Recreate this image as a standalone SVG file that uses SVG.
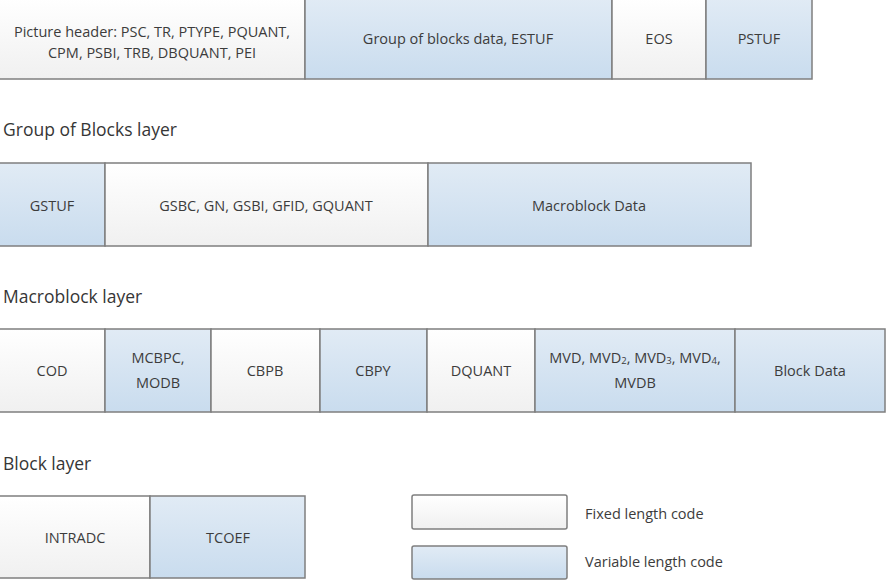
<svg xmlns="http://www.w3.org/2000/svg" width="890" height="582" viewBox="0 0 890 582">
<defs>
<linearGradient id="gw" x1="0" y1="0" x2="0" y2="1">
<stop offset="0" stop-color="#ffffff"/>
<stop offset="1" stop-color="#f0f0f0"/>
</linearGradient>
<linearGradient id="gb" x1="0" y1="0" x2="0" y2="1">
<stop offset="0" stop-color="#e1ebf5"/>
<stop offset="1" stop-color="#c9dcee"/>
</linearGradient>
</defs>
<style>
.w{fill:url(#gw);stroke:#7f7f7f;stroke-width:1.5}
.b{fill:url(#gb);stroke:#7f7f7f;stroke-width:1.5}
.t{font-family:"Open Sans","Liberation Sans",sans-serif;font-size:14.5px;fill:#3c3c3c;text-anchor:middle;dominant-baseline:central}
.h{font-family:"Open Sans","Liberation Sans",sans-serif;font-size:17.5px;fill:#363636}
.l{font-family:"Open Sans","Liberation Sans",sans-serif;font-size:14.5px;fill:#3c3c3c;dominant-baseline:central}
.s{font-size:9.5px}
</style>
<rect width="890" height="582" fill="#ffffff"/>

<g id="picture-layer">
<g id="pic-header"><rect class="w" x="-2" y="-2" width="307" height="81"/>
<text class="t" x="152" y="31">Picture header: PSC, TR, PTYPE, PQUANT,</text>
<text class="t" x="152" y="52">CPM, PSBI, TRB, DBQUANT, PEI</text></g>
<g id="gob-data"><rect class="b" x="305" y="-2" width="307" height="81"/>
<text class="t" x="458" y="38">Group of blocks data, ESTUF</text></g>
<g id="eos"><rect class="w" x="612" y="-2" width="94" height="81"/>
<text class="t" x="659" y="38">EOS</text></g>
<g id="pstuf"><rect class="b" x="706" y="-2" width="106" height="81"/>
<text class="t" x="759" y="38">PSTUF</text></g>
</g>

<text class="h" x="3" y="136">Group of Blocks layer</text>
<g id="gob-layer">
<g id="gstuf"><rect class="b" x="-2" y="163" width="107" height="83"/>
<text class="t" x="52" y="205">GSTUF</text></g>
<g id="gob-header"><rect class="w" x="105" y="163" width="323" height="83"/>
<text class="t" x="266" y="205">GSBC, GN, GSBI, GFID, GQUANT</text></g>
<g id="mb-data"><rect class="b" x="428" y="163" width="323" height="83"/>
<text class="t" x="589" y="205">Macroblock Data</text></g>
</g>

<text class="h" x="3" y="303">Macroblock layer</text>
<g id="mb-layer">
<g id="cod"><rect class="w" x="-2" y="329" width="107" height="83"/>
<text class="t" x="52" y="370">COD</text></g>
<g id="mcbpc"><rect class="b" x="105" y="329" width="106" height="83"/>
<text class="t" x="158" y="357">MCBPC,</text>
<text class="t" x="158" y="382">MODB</text></g>
<g id="cbpb"><rect class="w" x="211" y="329" width="109" height="83"/>
<text class="t" x="265" y="370">CBPB</text></g>
<g id="cbpy"><rect class="b" x="320" y="329" width="107" height="83"/>
<text class="t" x="373" y="370">CBPY</text></g>
<g id="dquant"><rect class="w" x="427" y="329" width="108" height="83"/>
<text class="t" x="481" y="370">DQUANT</text></g>
<g id="mvd"><rect class="b" x="535" y="329" width="200" height="83"/>
<text class="t" x="635" y="357">MVD, MVD<tspan class="s" dy="3">2</tspan><tspan dy="-3">, MVD</tspan><tspan class="s" dy="3">3</tspan><tspan dy="-3">, MVD</tspan><tspan class="s" dy="3">4</tspan><tspan dy="-3">,</tspan></text>
<text class="t" x="635" y="382">MVDB</text></g>
<g id="block-data"><rect class="b" x="735" y="329" width="150" height="83"/>
<text class="t" x="810" y="370">Block Data</text></g>
</g>

<text class="h" x="3" y="470">Block layer</text>
<g id="block-layer">
<g id="intradc"><rect class="w" x="-2" y="496" width="152" height="82"/>
<text class="t" x="75" y="537">INTRADC</text></g>
<g id="tcoef"><rect class="b" x="150" y="496" width="155" height="82"/>
<text class="t" x="228" y="537">TCOEF</text></g>
</g>

<g id="legend">
<g id="legend-fixed"><rect class="w" x="412" y="495" width="155" height="34" rx="2"/>
<text class="l" x="585" y="513">Fixed length code</text></g>
<g id="legend-variable"><rect class="b" x="412" y="546" width="155" height="33" rx="2"/>
<text class="l" x="585" y="561">Variable length code</text></g>
</g>
<g id="connectors"/>
</svg>
